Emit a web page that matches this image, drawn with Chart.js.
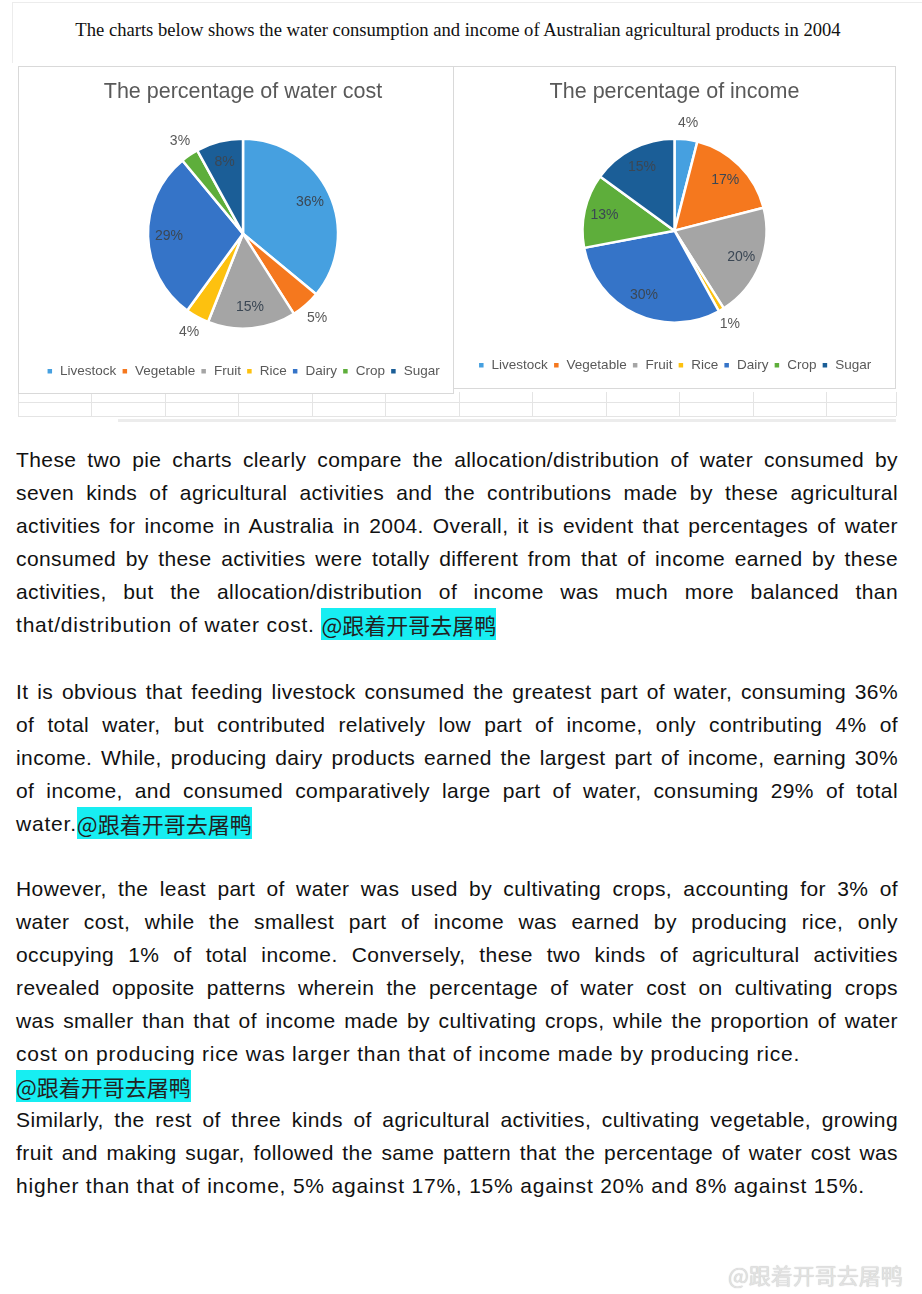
<!DOCTYPE html>
<html>
<head>
<meta charset="utf-8">
<script src="https://cdn.jsdelivr.net/npm/chart.js@4"></script>
<style>
    body {
        margin: 0;
        width: 922px;
        height: 1294px;
        overflow: hidden;
        background: #fff;
        position: relative;
        font-family: "Liberation Sans", Arial, sans-serif;
    }
    .frame {
        position: absolute;
        left: 12px;
        top: 2px;
        width: 910px;
        height: 60px;
        border-top: 1px solid #ececec;
        border-left: 1px solid #ececec;
    }
    #page-title {
        position: absolute;
        left: 0;
        width: 916px;
        top: 19px;
        text-align: center;
        font-family: "Liberation Serif", "DejaVu Serif", serif;
        font-size: 18.6px;
        color: #111;
    }
    .box {
        position: absolute;
        border: 1px solid #d9d9d9;
        background: #fff;
    }
    .grid-h {
        position: absolute;
        height: 0;
        border-top: 1px solid #e4e4e4;
    }
    .grid-v {
        position: absolute;
        width: 0;
        border-left: 1px solid #e4e4e4;
    }
    .para {
        position: absolute;
        left: 16px;
        width: 882px;
        color: #111;
        font-size: 21px;
    }
    .line {
        height: 33px;
        line-height: 33px;
        white-space: nowrap;
        letter-spacing: 0.4px;
        text-align: justify;
        text-align-last: justify;
    }
    .line.last {
        letter-spacing: 0.8px;
        text-align: left;
        text-align-last: left;
    }
    .hl {
        display: inline-block;
        height: 32px;
        line-height: 32px;
        vertical-align: top;
        background: #17eef2;
        font-family: "Noto Sans CJK SC", sans-serif;
        font-size: 22px;
        letter-spacing: 0;
        color: #222;
    }
    #watermark {
        position: absolute;
        left: 728px;
        top: 1258px;
        font-family: "Noto Sans CJK SC", sans-serif;
        font-size: 22px;
        color: #e2e2e2;
        text-shadow: 0 0 1px #bbb;
    }
</style>
</head>
<body>
<div class="frame"></div>
<div id="page-title">The charts below shows the water consumption and income of Australian agricultural products in 2004</div>

<div id="grid"></div>

<div class="box" style="left:18px; top:66px; width:434px; height:326px;"></div>
<div class="box" style="left:453px; top:66px; width:441px; height:321px;"></div>
<canvas id="water-chart" width="434" height="325" style="position:absolute; left:26px; top:67px;"></canvas>
<canvas id="income-chart" width="439" height="320" style="position:absolute; left:455px; top:67px;"></canvas>

<div id="text"></div>
<div id="watermark">@跟着开哥去屠鸭</div>

<script>
const categories = ['Livestock', 'Vegetable', 'Fruit', 'Rice', 'Dairy', 'Crop', 'Sugar'];
const waterCost = [36, 5, 15, 4, 29, 3, 8];
const income = [4, 17, 20, 1, 30, 13, 15];
const sliceColors = ['#46a0e0', '#f5781e', '#a5a5a5', '#fdc10f', '#3574c8', '#5eae3b', '#1b5e97'];

const tag = '@跟着开哥去屠鸭';

// each paragraph: lines as they break in the document, last = not justified
const paragraphs = [
    { top: 443, lines: [
        ['These two pie charts clearly compare the allocation/distribution of water consumed by'],
        ['seven kinds of agricultural activities and the contributions made by these agricultural'],
        ['activities for income in Australia in 2004. Overall, it is evident that percentages of water'],
        ['consumed by these activities were totally different from that of income earned by these'],
        ['activities, but the allocation/distribution of income was much more balanced than'],
        ['that/distribution of water cost. ', true]
    ]},
    { top: 675, lines: [
        ['It is obvious that feeding livestock consumed the greatest part of water, consuming 36%'],
        ['of total water, but contributed relatively low part of income, only contributing 4% of'],
        ['income. While, producing dairy products earned the largest part of income, earning 30%'],
        ['of income, and consumed comparatively large part of water, consuming 29% of total'],
        ['water.', true]
    ]},
    { top: 872, lines: [
        ['However, the least part of water was used by cultivating crops, accounting for 3% of'],
        ['water cost, while the smallest part of income was earned by producing rice, only'],
        ['occupying 1% of total income. Conversely, these two kinds of agricultural activities'],
        ['revealed opposite patterns wherein the percentage of water cost on cultivating crops'],
        ['was smaller than that of income made by cultivating crops, while the proportion of water'],
        ['cost on producing rice was larger than that of income made by producing rice.', false, true],
        ['', true],
        ['Similarly, the rest of three kinds of agricultural activities, cultivating vegetable, growing'],
        ['fruit and making sugar, followed the same pattern that the percentage of water cost was'],
        ['higher than that of income, 5% against 17%, 15% against 20% and 8% against 15%.', false, true]
    ]}
];

function buildText() {
    const holder = document.getElementById('text');
    paragraphs.forEach(p => {
        const div = document.createElement('div');
        div.className = 'para';
        div.style.top = p.top + 'px';
        p.lines.forEach(([text, withTag, isLast]) => {
            const line = document.createElement('div');
            line.className = 'line' + (withTag || isLast ? ' last' : '');
            line.appendChild(document.createTextNode(text));
            if (withTag) {
                const span = document.createElement('span');
                span.className = 'hl';
                span.textContent = tag;
                line.appendChild(span);
            }
            div.appendChild(line);
        });
        holder.appendChild(div);
    });
}

function buildGrid() {
    // faint spreadsheet cells under the charts
    const grid = document.getElementById('grid');
    const cols = [18, 91, 165, 238, 312, 385, 459, 532, 606, 679, 753, 826, 896];
    [[18, 896, 402], [18, 896, 416]].forEach(([x1, x2, y]) => {
        const d = document.createElement('div');
        d.className = 'grid-h';
        d.style.left = x1 + 'px';
        d.style.width = (x2 - x1) + 'px';
        d.style.top = y + 'px';
        grid.appendChild(d);
    });
    cols.forEach(x => {
        const d = document.createElement('div');
        d.className = 'grid-v';
        d.style.left = x + 'px';
        d.style.top = '392px';
        d.style.height = '24px';
        grid.appendChild(d);
    });
    const band = document.createElement('div');
    band.className = 'grid-h';
    band.style.left = '118px';
    band.style.width = '778px';
    band.style.top = '419px';
    band.style.borderTop = '3px solid #ececec';
    grid.appendChild(band);
}

const sliceLabels = {
    id: 'sliceLabels',
    afterDatasetsDraw(chart) {
        const ctx = chart.ctx;
        const meta = chart.getDatasetMeta(0);
        const values = chart.data.datasets[0].data;
        ctx.save();
        ctx.font = '14px "Liberation Sans", Arial, sans-serif';
        ctx.textAlign = 'center';
        ctx.textBaseline = 'middle';
        meta.data.forEach((arc, i) => {
            const p = arc.getProps(['x', 'y', 'startAngle', 'endAngle', 'outerRadius'], true);
            const mid = (p.startAngle + p.endAngle) / 2;
            const outside = values[i] < 6;
            const r = p.outerRadius * (outside ? 1.18 : 0.78);
            ctx.fillStyle = outside ? '#595959' : '#3b4754';
            ctx.fillText(values[i] + '%', p.x + Math.cos(mid) * r, p.y + Math.sin(mid) * r);
        });
        ctx.restore();
    }
};

function makePie(id, title, values, radius, legendBottom) {
    const ctx = document.getElementById(id).getContext('2d');
    return new Chart(ctx, {
        type: 'pie',
        data: {
            labels: categories,
            datasets: [{
                data: values,
                backgroundColor: sliceColors,
                borderColor: '#ffffff',
                borderWidth: 2.5,
                radius: radius
            }]
        },
        options: {
            responsive: false,
            animation: false,
            layout: { padding: { bottom: legendBottom } },
            plugins: {
                title: {
                    display: true,
                    text: title,
                    color: '#595959',
                    font: { family: '"Liberation Sans", Arial, sans-serif', size: 21.5, weight: 'normal' },
                    padding: { top: 12, bottom: 3 }
                },
                legend: {
                    position: 'bottom',
                    labels: {
                        boxWidth: 7,
                        boxHeight: 7,
                        padding: 5,
                        color: '#595959',
                        font: { family: '"Liberation Sans", Arial, sans-serif', size: 13.5 }
                    }
                },
                tooltip: { enabled: false }
            }
        },
        plugins: [sliceLabels]
    });
}

document.addEventListener('DOMContentLoaded', () => {
    buildGrid();
    buildText();
    makePie('water-chart', 'The percentage of water cost', waterCost, 95, 4);
    makePie('income-chart', 'The percentage of income', income, 92, 5);
});
</script>
</body>
</html>
